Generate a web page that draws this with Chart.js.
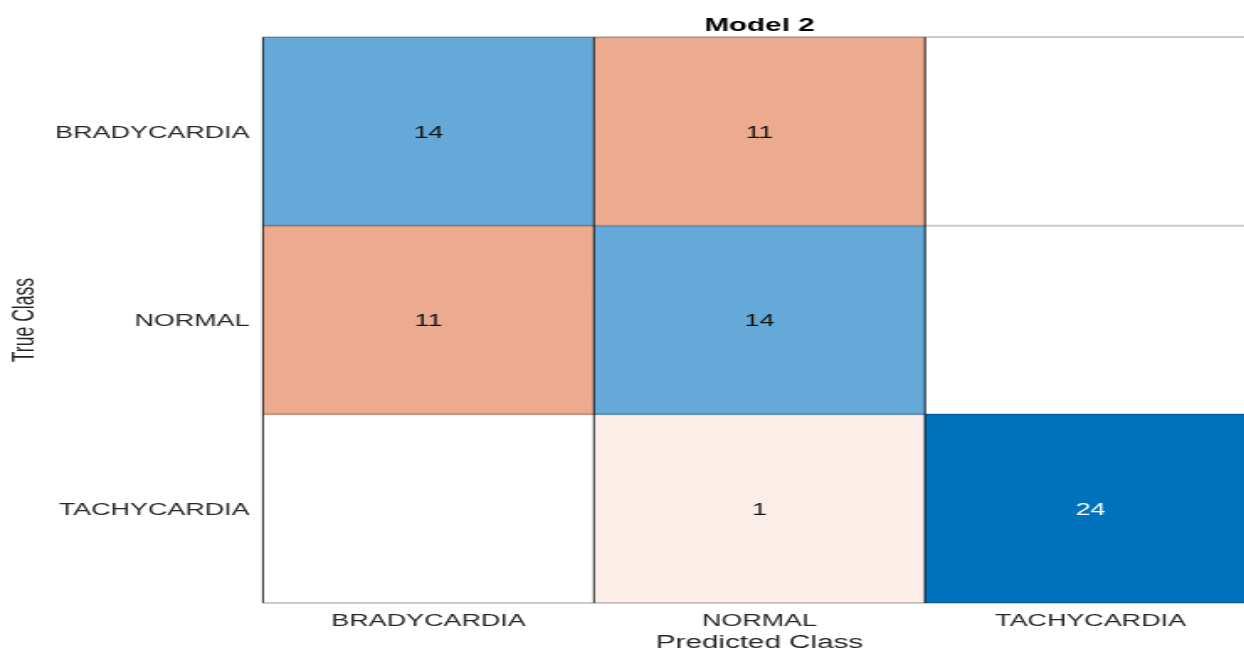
<!DOCTYPE html>
<html>
<head>
<meta charset="utf-8">
<script src="https://cdn.jsdelivr.net/npm/chart.js@4.4.1/dist/chart.umd.min.js"></script>
<style>
  html, body { margin: 0; padding: 0; background: #fff; overflow: hidden; width: 1244px; height: 651px; }
  #wrap { width: 1244px; height: 651px; overflow: hidden; position: relative; }
  canvas { display: block; }
</style>
</head>
<body>
<div id="wrap">
  <canvas id="cm" width="747" height="651" style="width:1256px;height:651px"></canvas>
</div>
<script>
// Confusion matrix: rows are the true class, columns the predicted class
const predictedClasses = ['BRADYCARDIA', 'NORMAL', 'TACHYCARDIA'];
const trueClasses = ['BRADYCARDIA', 'NORMAL', 'TACHYCARDIA'];
const bradycardiaRow = [14, 11, 0];
const normalRow = [11, 14, 0];
const tachycardiaRow = [0, 1, 24];
const rowCounts = [bradycardiaRow, normalRow, tachycardiaRow];

// Colour scale: correct predictions in blue, errors in orange, shade by count
const correctRGB = [0, 114, 189];
const errorRGB = [217, 83, 25];
const maxCount = Math.max(...rowCounts.flat());

function shade(count, rgb) {
  if (!count) return { fill: 'rgba(255,255,255,0)', dark: false };
  const t = 0.06 + 0.94 * count / maxCount;
  const c = rgb.map(v => Math.round(255 - t * (255 - v)));
  const lum = 0.299 * c[0] + 0.587 * c[1] + 0.114 * c[2];
  return { fill: `rgb(${c[0]},${c[1]},${c[2]})`, dark: lum < 140 };
}

const FONT = "'Liberation Sans', Arial, Helvetica, sans-serif";
Chart.defaults.font.family = FONT;

const datasets = rowCounts.map((counts, r) => ({
  label: trueClasses[r],
  data: counts.map(() => [r, r + 1]),
  backgroundColor: counts.map((v, j) => shade(v, r === j ? correctRGB : errorRGB).fill),
  borderWidth: 0,
  barPercentage: 1,
  categoryPercentage: 1,
  grouped: false
}));

// Cell counts and cell boundaries drawn on top of the bars
const cellLayer = {
  id: 'cellLayer',
  afterDatasetsDraw(chart) {
    const { ctx, chartArea, scales: { x, y } } = chart;
    ctx.save();
    // horizontal boundaries
    ctx.strokeStyle = 'rgba(0,0,0,0.2)';
    ctx.lineWidth = 2;
    for (let k = 0; k <= trueClasses.length; k++) {
      const py = y.getPixelForValue(k);
      ctx.beginPath();
      ctx.moveTo(chartArea.left, py);
      ctx.lineTo(chartArea.right + 20, py);
      ctx.stroke();
    }
    // vertical boundaries
    ctx.strokeStyle = 'rgba(10,10,10,0.9)';
    ctx.lineWidth = 1;
    for (let j = 0; j <= predictedClasses.length; j++) {
      const px = x.getPixelForValue(j - 0.5);
      ctx.beginPath();
      ctx.moveTo(px, chartArea.top);
      ctx.lineTo(px, chartArea.bottom);
      ctx.stroke();
    }
    // counts
    ctx.font = `16px ${FONT}`;
    ctx.textAlign = 'center';
    ctx.textBaseline = 'middle';
    chart.data.datasets.forEach((ds, r) => {
      chart.getDatasetMeta(r).data.forEach((bar, j) => {
        const v = rowCounts[r][j];
        if (!v) return;
        ctx.fillStyle = shade(v, r === j ? correctRGB : errorRGB).dark ? '#ffffff' : '#111111';
        ctx.fillText(String(v), bar.x, (bar.y + bar.base) / 2 + 2);
      });
    });
    ctx.restore();
  }
};

new Chart(document.getElementById('cm'), {
  type: 'bar',
  data: { labels: predictedClasses, datasets },
  plugins: [cellLayer],
  options: {
    responsive: false,
    animation: false,
    devicePixelRatio: 1,
    layout: { padding: 0 },
    plugins: {
      legend: { display: false },
      tooltip: { enabled: false },
      title: {
        display: true,
        text: 'Model 2',
        fullSize: false,
        color: '#000000',
        font: { size: 17.6, weight: 'bold', lineHeight: 1.2 },
        padding: { top: 16, bottom: 0 }
      }
    },
    scales: {
      x: {
        type: 'category',
        offset: true,
        grid: { display: false, drawTicks: false },
        border: { display: false },
        ticks: { color: '#262626', font: { size: 16 }, padding: 9, maxRotation: 0, autoSkip: false },
        title: {
          display: true,
          text: 'Predicted Class',
          color: '#262626',
          font: { size: 17.6, lineHeight: 0.9 },
          padding: { top: 0, bottom: 0 }
        },
        afterFit(scale) { scale.height = 48; }
      },
      y: {
        type: 'linear',
        min: 0,
        max: 3,
        reverse: true,
        grid: { display: false, drawTicks: false },
        border: { display: false },
        afterBuildTicks(scale) {
          scale.ticks = trueClasses.map((_, i) => ({ value: i + 0.5 }));
        },
        ticks: {
          color: '#262626',
          font: { size: 16 },
          padding: 8,
          labelOffset: 2,
          callback: (v) => trueClasses[Math.floor(v)]
        },
        title: {
          display: true,
          text: 'True Class',
          color: '#262626',
          font: { size: 17.6, lineHeight: 1.2 },
          padding: { top: 5, bottom: 0 }
        },
        afterFit(scale) { scale.width = 156.4; }
      }
    }
  }
});
</script>
</body>
</html>
